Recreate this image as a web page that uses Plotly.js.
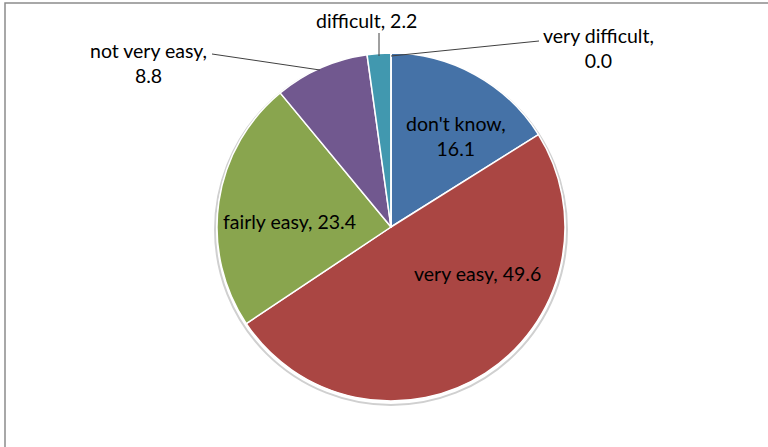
<!DOCTYPE html>
<html>
<head>
<meta charset="utf-8">
<script src="https://cdn.plot.ly/plotly-3.0.1.min.js"></script>
<style>html,body{margin:0;padding:0;background:#fff;}#chart{width:768px;height:447px;}</style>
</head>
<body>
<div id="chart"></div>
<script>
const categories = ["don't know", "very easy", "fairly easy", "not very easy", "difficult", "very difficult"];
const values = [16.1, 49.6, 23.4, 8.8, 2.2, 0.0];
const colors = ["#4572A7", "#AA4643", "#89A54E", "#71588F", "#4198AF", "#DB843D"];
const labelBreak = [true, false, false, true, false, true];

const W = 768, H = 447;
const px = x => x / W;
const py = y => 1 - y / H;
const cx = 391, cy = 227, r = 174;

const fmt = v => v.toFixed(1);

const data = [{
  type: 'pie',
  labels: categories,
  values: values,
  sort: false,
  direction: 'clockwise',
  rotation: 0,
  marker: {colors: colors, line: {color: '#ffffff', width: 1.5}},
  textinfo: 'none',
  hoverinfo: 'none',
  showlegend: false,
  domain: {x: [px(cx - r), px(cx + r)], y: [py(cy + r), py(cy - r)]}
}];

const labelPos = [[456, 136], [477, 273], [289, 222], [148, 63], [366, 20], [598, 48]];
const annFont = {family: 'Lato, "Open Sans", sans-serif', size: 19.5, color: '#000000'};
const annotations = categories.map((c, i) => ({
  xref: 'paper', yref: 'paper',
  x: px(labelPos[i][0]), y: py(labelPos[i][1]),
  text: c + ',' + (labelBreak[i] ? '<br>' : ' ') + fmt(values[i]),
  showarrow: false, font: annFont, xanchor: 'center', yanchor: 'middle', align: 'center'
}));

const lineStyle = {color: '#404040', width: 1};
const shapes = [
  {type: 'circle', xref: 'paper', yref: 'paper', layer: 'below',
   x0: px(cx - r - 2), x1: px(cx + r + 2), y0: py(cy + r + 4), y1: py(cy - r + 1),
   line: {color: '#d0d0d0', width: 2}, fillcolor: 'rgba(0,0,0,0)'},
  {type: 'rect', xref: 'paper', yref: 'paper', x0: px(5), x1: px(820), y0: py(3), y1: py(500), line: {color: '#8c8c8c', width: 1.5}},
  {type: 'line', xref: 'paper', yref: 'paper', x0: px(212), y0: py(54), x1: px(320), y1: py(70), line: lineStyle},
  {type: 'line', xref: 'paper', yref: 'paper', x0: px(379), y0: py(33), x1: px(379), y1: py(56), line: lineStyle},
  {type: 'line', xref: 'paper', yref: 'paper', x0: px(391), y0: py(56), x1: px(539), y1: py(41), line: lineStyle}
];

const layout = {
  width: W, height: H,
  margin: {l: 0, r: 0, t: 0, b: 0},
  paper_bgcolor: '#ffffff',
  annotations: annotations,
  shapes: shapes
};

Plotly.newPlot('chart', data, layout, {displayModeBar: false, staticPlot: true});
</script>
</body>
</html>
